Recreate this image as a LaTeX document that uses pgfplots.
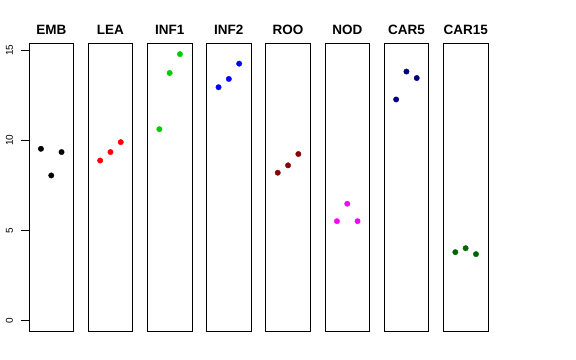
\documentclass[border=0pt]{standalone}
\usepackage{pgfplots}
\pgfplotsset{compat=1.18}
\usepackage{fontspec}
\setmainfont{Liberation Sans}
\definecolor{rgreen}{HTML}{00CD00}
\definecolor{rdarkred}{HTML}{8B0000}
\definecolor{rnavy}{HTML}{000080}
\definecolor{rdarkgreen}{HTML}{006400}
\definecolor{rmagenta}{HTML}{FF00FF}
\pgfplotsset{
  panel/.style={
    anchor=south west, scale only axis, width=44.5bp, height=287.7bp,
    xmin=-0.16, xmax=4.16, ymin=-0.59, ymax=15.39,
    xtick=\empty, ytick=\empty,
    axis line style={line width=0.75bp, black},
    title style={at={(0.5,1)}, anchor=base, yshift=2.5bp, font=\fontsize{13.5bp}{14bp}\selectfont\bfseries},
  }
}
\newcommand{\panel}[5]{%
\begin{axis}[panel, at={(#1bp,29bp)}, title={#2}, #5]
\addplot[only marks, mark=*, mark size=2.7bp, color=#3] coordinates {#4};
\end{axis}}
\begin{document}
\begin{tikzpicture}
\path[use as bounding box] (0,0) rectangle (576bp,360bp);
\panel{29}{EMB}{black}{(1,9.53) (2,8.05) (3,9.35)}{ytick={0,5,10,15}, ytick pos=left, tick align=outside, major tick length=8bp,
  tick style={line width=0.75bp, black},
  yticklabel style={rotate=90, anchor=center, yshift=11.5bp, font=\fontsize{10bp}{11bp}\selectfont},
  /pgf/number format/assume math mode=true}
\panel{88.2}{LEA}{red}{(1,8.88) (2,9.35) (3,9.90)}{}
\panel{147.4}{INF1}{rgreen}{(1,10.62) (2,13.74) (3,14.79)}{}
\panel{206.6}{INF2}{blue}{(1,12.95) (2,13.41) (3,14.26)}{}
\panel{265.8}{ROO}{rdarkred}{(1,8.20) (2,8.61) (3,9.24)}{}
\panel{325.0}{NOD}{rmagenta}{(1,5.51) (2,6.48) (3,5.51)}{}
\panel{384.2}{CAR5}{rnavy}{(1,12.27) (2,13.82) (3,13.46)}{}
\panel{443.4}{CAR15}{rdarkgreen}{(1,3.79) (2,4.01) (3,3.68)}{}
\end{tikzpicture}
\end{document}
